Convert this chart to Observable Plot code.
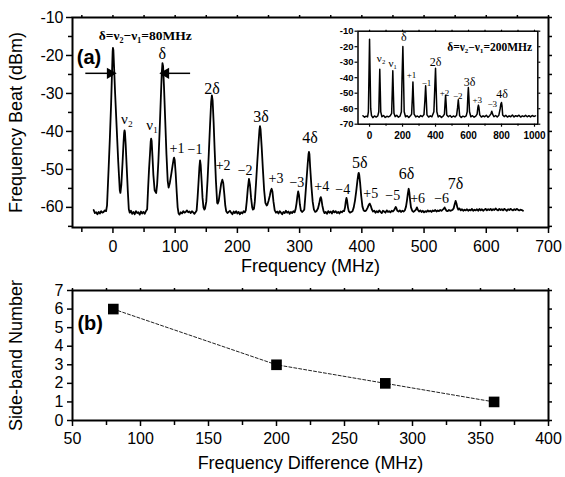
<!DOCTYPE html>
<html>
<head>
<meta charset="utf-8">
<script src="https://cdn.jsdelivr.net/npm/d3@7"></script>
<script src="https://cdn.jsdelivr.net/npm/@observablehq/plot@0.6"></script>
<style>
  html, body { margin: 0; padding: 0; background: white; }
  #wrap { position: relative; width: 565px; height: 477px; overflow: hidden; }
  #wrap > div { position: absolute; }
  svg { background: transparent !important; overflow: visible; }
</style>
</head>
<body>
<div id="wrap">
  <div id="pb" style="left:0;top:265px"></div>
  <div id="pa" style="left:0;top:0"></div>
  <div id="pinset" style="left:320px;top:20px"></div>
</div>
<script>
// ---------- Panel (a): beat spectrum, delta = 80 MHz  [frequency MHz, power dBm]
const spectrumA = [
[-31,-60.7],[-29,-61.5],[-27,-61.3],[-25,-61.8],[-23,-61.2],[-21,-61.6],[-19,-61.0],[-17,-61.4],[-15,-61.2],[-13,-60.8],[-11,-61.0],
[-9.5,-59.5],[-7,-50],[-5,-42],[-3,-33],[-1.5,-24.5],[-0.5,-19],[0,-18],[0.7,-18.6],[1.8,-23],[3.5,-30],[6,-39],[8.5,-48],[11,-55.5],[12,-56.2],
[13.5,-54],[15.5,-48],[17,-43],[18,-40.3],[18.6,-39.7],[19.3,-40.2],[20.5,-43.5],[22,-49],[24,-56],[25.5,-60.5],
[27,-61.4],[29,-60.9],[31,-61.7],[33,-61.2],[35,-61.8],[37,-61.0],[39,-61.5],[41,-61.3],[43,-61.9],[45,-61.1],[47,-61.6],[49,-61.2],[51,-61.7],[53,-61.0],
[55,-60.5],[56.5,-55],[58,-50],[59.5,-46],[60.7,-42.6],[61.4,-41.9],[62.2,-42.5],[63.5,-46.5],[65,-51.5],[67,-55.5],[69.5,-56.2],
[71,-54],[73,-48],[75,-40],[77,-31],[78.5,-24.5],[79.6,-22],[80.6,-22.8],[82,-28],[84,-37],[86,-46],[88,-53],[89.5,-54.8],
[91.5,-53.5],[94,-51],[96,-48.8],[97.5,-47.3],[98.3,-46.9],[99.3,-47.6],[100.8,-51],[102.5,-56],[104,-60],[105.5,-61.6],
[107,-61.9],[109,-61.3],[111,-61.6],[113,-61.0],[115,-61.4],[117,-61.2],[119,-60.8],[121,-61.3],[123,-61.1],[125,-61.5],[127,-61.0],[129,-61.3],[131,-61.7],[133,-61.2],
[134.5,-60.8],[136,-57.5],[137.5,-53.5],[139,-49.3],[140,-47.6],[141,-48.8],[142.5,-53],[144,-57.5],[145.5,-60],[147,-60.6],[148,-60.3],
[150,-58.5],[152,-53],[154,-46],[156,-38.5],[157.8,-32.3],[159,-30.5],[160.2,-31.8],[161.8,-37.5],[163.5,-45],[165.5,-53],[167.5,-58.8],[168.5,-59],
[170,-58.3],[172,-56],[174,-53.7],[175.8,-52.7],[177.3,-53.6],[179,-56.5],[180.5,-59.5],[182,-61],
[184,-61.5],[186,-61.2],[188,-60.9],[190,-61.4],[192,-61.8],[194,-61.1],[196,-61.5],[198,-61.0],[200,-61.6],[202,-61.2],[204,-61.8],[206,-61.3],[208,-61.6],[210,-61.0],[212,-61.3],
[213.5,-60.8],[215,-58.5],[216.8,-55],[218.6,-52.5],[220.2,-54],[222,-57.5],[223.8,-60],[225,-60.6],[226.6,-60.4],
[228,-58.5],[230,-53.5],[232,-48],[234,-43],[235.5,-39.5],[236.3,-38.6],[237.2,-39.4],[239,-44],[241,-50],[243,-55.5],[245,-58.8],[247,-59.5],[248,-59.4],
[250,-58.3],[252,-57],[253.7,-55.6],[255,-55.1],[256.3,-55.8],[258,-58.5],[260,-60.8],[262,-61.4],
[264,-61.1],[266,-61.6],[268,-61.0],[270,-61.4],[272,-61.8],[274,-61.2],[276,-61.5],[278,-60.9],[280,-61.4],[282,-61.1],[284,-61.7],[286,-61.2],[288,-61.5],[290,-61.0],[292,-61.3],
[293.5,-60.5],[295,-59],[296.5,-57],[297.7,-55.8],[299,-56.7],[300.5,-59.3],[302,-60.8],[304,-61.2],[306,-60.9],
[307.5,-60.6],[309,-57.5],[311,-53],[313,-48.5],[314.3,-46],[315,-45.4],[315.8,-46],[317,-49.5],[319,-54.5],[321,-58.5],[323,-60.6],[325,-61.2],
[327,-61],[329.5,-60.3],[331.5,-59],[333,-57.7],[334,-57.3],[335,-57.8],[336.5,-59.5],[338.5,-61],[340,-61.5],
[342,-61.2],[344,-61.7],[346,-61.0],[348,-61.4],[350,-61.1],[352,-61.6],[354,-60.9],[356,-61.3],[358,-61.0],[360,-61.5],[362,-61.2],[364,-61.6],[366,-61.1],[368,-61.3],[370,-60.9],
[371.5,-61],[373,-60],[374.3,-58.3],[375.3,-57.5],[376.3,-58.2],[377.7,-60],[379,-61],[381,-61.4],[383,-61.2],
[385,-61],[387,-60],[389,-58.2],[391,-55.7],[393,-52.8],[394.3,-51.3],[395,-50.9],[395.8,-51.4],[397.2,-53.5],[399,-57],[401,-59.8],[403,-60.8],[405,-61],
[407,-60.8],[409,-60.2],[411,-59.4],[412.7,-59.0],[414.3,-59.6],[416,-60.5],[418,-61.1],
[420,-60.9],[422,-61.4],[424,-61.0],[426,-61.3],[428,-60.8],[430,-61.2],[432,-61.5],[434,-60.9],[436,-61.1],[438,-61.4],[440,-60.8],[442,-61.2],[444,-61.0],[446,-61.3],[448,-60.9],[450,-61.1],
[452,-60.7],[453.5,-60.2],[454.5,-59.9],[455.7,-60.3],[457,-60.9],[459,-61.1],[461,-60.8],[463,-61.2],[465,-60.9],[467,-61.1],
[469,-60.8],[471,-59.8],[472.5,-58.2],[474,-56.3],[475.3,-55.1],[476.3,-56],[477.5,-58],[479,-60],[481,-60.9],[483,-61.2],[485,-60.9],
[487,-60.6],[488.5,-60.0],[490,-60.6],[492,-61.1],[494,-60.8],[496,-61.2],[498,-60.9],[500,-61.3],[502,-61.0],[504,-61.2],[506,-60.8],[508,-61.1],[510,-60.9],[512,-61.2],[514,-60.8],[516,-61.0],[518,-60.7],[520,-61.1],[522,-60.8],[524,-61.0],[526,-60.7],[528,-60.9],[530,-60.6],
[531.5,-60.4],[533,-60.0],[534.5,-60.5],[536,-60.9],[538,-61.0],[540,-60.7],[542,-60.9],[544,-60.8],[546,-60.6],
[547.5,-60.3],[549,-59.3],[550.7,-58.3],[552,-58.9],[553.5,-60],[555,-60.6],[557,-60.3],[559,-60.8],[561,-60.5],
[563,-60.9],[565,-60.6],[567,-60.8],[569,-60.5],[571,-60.9],[573,-60.6],[575,-60.8],[577,-60.4],[579,-60.9],[581,-60.6],[583,-60.8],[585,-60.5],[587,-60.9],[589,-60.4],[591,-60.8],[593,-60.5],[595,-60.9],[597,-60.6],[599,-60.4],[601,-60.8],[603,-60.5],[605,-60.7],[607,-60.4],[609,-60.8],[611,-60.5],[613,-60.7],[615,-60.3],[617,-60.6],[619,-60.8],[621,-60.4],[623,-60.7],[625,-60.5],[627,-60.8],[629,-60.4],[631,-60.6],[633,-60.9],[635,-60.5],[637,-60.7],[639,-60.4],[641,-60.6],[643,-60.8],[645,-60.5],[647,-60.7],[649,-60.4],[651,-60.6],[653,-60.8],[655,-60.6],[657,-60.7],[659,-60.9]
];

// peak labels of panel (a) [text, frequency, dBm, size]
const labelsA = [
["ν₂",22.5,-36.7,15],["ν₁",63.3,-38.4,15],["δ",79.3,-19.5,16],["2δ",159.3,-28.7,16],["3δ",238,-36.3,16],["4δ",316.6,-41.6,16],
["+1",103,-44.5,14],["−1",132,-44.7,14],["+2",177.1,-48.9,14],["−2",212.4,-50.3,14],["+3",262,-52.4,14],["−3",295.6,-53.4,14],
["+4",335.7,-54.5,14],["−4",369.4,-55.3,14],["5δ",396.7,-48.2,16],["+5",414.3,-56.3,14],["−5",449.6,-56.8,14],
["6δ",472,-51.3,16],["+6",489.7,-57.6,14],["−6",528.2,-57.6,14],["7δ",550.7,-53.9,16]
];
const titleA = ["δ=ν₂−ν₁=80MHz", 52, -14.7];
const panelTagA = ["(a)", -38.4, -20.5];
// arrows [from f, to f, dBm]
const arrowsA = [[-44.4,-4.5,-24.7],[124,85,-24.7]];

const xMajorA = [0,100,200,300,400,500,600,700];
const xMinorA = [-50,50,150,250,350,450,550,650];
const yMajorA = [-10,-20,-30,-40,-50,-60];
const yMinorA = [-15,-25,-35,-45,-55,-65];

// ---------- Inset: delta = 200 MHz
const spectrumInset = [
[-40,-64.5],[-30,-65.5],[-20,-64.8],[-12,-65.3],[-7,-62],[-3,-35],[0,-15.2],[3,-35],[7,-60],[12,-64.5],[20,-65.8],[30,-64.7],[40,-65.4],[50,-64.6],
[56,-62],[59,-48],[62,-34.5],[65,-48],[68,-62],[75,-65.2],[85,-64.4],[95,-65.6],[105,-64.9],[115,-65.3],[125,-64.6],
[134,-63],[138,-48],[141,-35.5],[144,-48],[148,-63],[155,-65.1],[165,-64.3],[175,-65.5],[185,-64.8],
[193,-62],[197,-40],[202,-19.9],[206,-40],[210,-62],[218,-65.2],[228,-64.5],[238,-65.7],[248,-64.6],
[255,-63.5],[260,-52],[263,-42.7],[266,-52],[270,-63.5],[280,-65.3],[290,-64.7],[300,-65.5],[310,-64.4],[320,-65.1],
[330,-63.8],[336,-54],[340,-45.2],[344,-54],[348,-64],[358,-65.4],[368,-64.6],[378,-65.2],
[390,-62],[395,-48],[400,-33.9],[404,-48],[408,-62],[416,-65.3],[426,-64.5],[436,-65.6],[446,-64.8],
[454,-63.5],[458,-56],[461,-51.3],[464,-56],[468,-64],[478,-65.2],[488,-64.4],[498,-65.5],[508,-64.7],[518,-65.3],
[528,-64.2],[534,-59],[538,-54.3],[542,-59],[546,-64.5],[556,-65.6],[566,-64.8],[576,-65.3],[586,-64.6],
[592,-62],[596,-52],[599,-46.3],[602,-52],[606,-62],[614,-65.2],[624,-64.5],[634,-65.5],[644,-64.8],
[652,-63.5],[657,-59],[660,-57.7],[663,-59],[668,-64],[678,-65.4],[688,-64.6],[698,-65.2],[708,-64.3],[718,-65.5],[728,-64.5],
[736,-63.3],[741,-61.6],[746,-63.5],[754,-65.2],[764,-64.4],[774,-65.3],[784,-64.2],
[792,-60],[796,-57],[800,-56],[803,-58],[807,-64],[816,-65.1],[826,-64.3],[836,-65.4],[846,-64.6],[856,-65.2],[866,-64.1],
[876,-65.3],[886,-64.5],[896,-65.0],[906,-64.2],[916,-65.4],[926,-64.6],[936,-65.1],[946,-64.3],[956,-65.2],[966,-64.5],[976,-65.3],[986,-64.4],[996,-65.0],[1006,-64.6]
];
const labelsInset = [
["ν₂",71,-27.6,11],["ν₁",141,-30.6,11],["δ",208,-14.1,12],["+1",254.5,-38.4,9],["−1",345,-43.5,9],["2δ",400,-30.2,12],
["+2",454.5,-50,9],["−2",535,-52.1,9],["3δ",606,-43.1,12],["+3",653,-54.3,9],["−3",743.6,-57.1,9],["4δ",804,-50.6,12]
];
const titleInset = ["δ=ν₂−ν₁=200MHz", 728, -20.5];
const xTicksInset = [0,200,400,600,800,1000];
const xMinorInset = [100,300,500,700,900];
const yTicksInset = [-10,-20,-30,-40,-50,-60,-70];

// ---------- Panel (b): side-band number vs frequency difference
const freqDiff = [80, 200, 280, 360];
const sideBands = [6, 3, 2, 1];
const xMajorB = [50,100,150,200,250,300,350,400];
const xMinorB = [75,125,175,225,275,325,375];
const yMajorB = [0,1,2,3,4,5,6,7];

const sans = "'Liberation Sans', Arial, sans-serif";
const serif = "'Liberation Serif', 'Times New Roman', serif";
const blank = () => "";

// ---------- build panel (a)
const plotA = Plot.plot({
  width: 565, height: 285,
  marginLeft: 72, marginRight: 17, marginTop: 17, marginBottom: 58,
  style: {fontFamily: sans, fontSize: "16px", color: "black", background: "transparent"},
  x: {domain: [-65, 700]},
  y: {domain: [-65.3, -10]},
  marks: [
    Plot.line(spectrumA, {x: d => d[0], y: d => d[1], stroke: "black", strokeWidth: 1.8, strokeLinejoin: "round"}),
    Plot.frame({stroke: "black", strokeWidth: 2}),
    Plot.axisX({ticks: xMajorA, tickSize: 6, tickPadding: 7, tickFormat: d => String(d), label: null, fontSize: 16, strokeWidth: 1.5}),
    Plot.axisX({ticks: xMinorA, tickSize: 5, tickFormat: blank, label: null, strokeWidth: 1.5}),
    Plot.axisX({anchor: "top", ticks: xMajorA.concat(xMinorA), tickSize: 3, tickFormat: blank, label: null, strokeWidth: 1.5}),
    Plot.axisY({ticks: yMajorA, tickSize: 6, tickPadding: 3, tickFormat: d => String(d), label: null, fontSize: 16, strokeWidth: 1.5}),
    Plot.axisY({ticks: yMinorA, tickSize: 4, tickFormat: blank, label: null, strokeWidth: 1.5}),
    Plot.axisY({anchor: "right", ticks: yMajorA.concat(yMinorA), tickSize: 3, tickFormat: blank, label: null, strokeWidth: 1.5}),
    Plot.text(["Frequency (MHz)"], {frameAnchor: "bottom", dy: 44, fontSize: 18, fontFamily: sans}),
    Plot.text(["Frequency Beat (dBm)"], {frameAnchor: "left", dx: -56, rotate: -90, textAnchor: "middle", lineAnchor: "middle", fontSize: 18, fontFamily: sans}),
    Plot.text(labelsA, {x: d => d[1], y: d => d[2], text: d => d[0], fontSize: d => d[3], fontFamily: serif}),
    Plot.text([titleA], {x: d => d[1], y: d => d[2], text: d => d[0], fontSize: 13.5, fontWeight: "bold", fontFamily: serif}),
    Plot.text([panelTagA], {x: d => d[1], y: d => d[2], text: d => d[0], fontSize: 20, fontWeight: "bold", fontFamily: sans}),
    Plot.link(arrowsA, {x1: d => d[0], x2: d => d[1], y1: d => d[2], y2: d => d[2], stroke: "black", strokeWidth: 1.5}),
    Plot.dot(arrowsA, {x: d => d[1], y: d => d[2], symbol: "triangle", r: 4.2, fill: "black", stroke: "none",
      rotate: d => d[1] > d[0] ? 90 : -90})
  ]
});
document.getElementById("pa").appendChild(plotA);

// ---------- inset
const plotInset = Plot.plot({
  width: 225, height: 130,
  marginLeft: 37.5, marginRight: 7.7, marginTop: 10.7, marginBottom: 26.3,
  style: {fontFamily: sans, fontSize: "10px", color: "black", background: "transparent"},
  x: {domain: [-70, 1020]},
  y: {domain: [-70, -10]},
  marks: [
    Plot.line(spectrumInset, {x: d => d[0], y: d => d[1], stroke: "black", strokeWidth: 1.5, strokeLinejoin: "round"}),
    Plot.frame({stroke: "black", strokeWidth: 1.5}),
    Plot.axisX({ticks: xTicksInset, tickSize: 3, tickPadding: 5, tickFormat: d => String(d), label: null, fontSize: 10, fontWeight: "bold", strokeWidth: 1.2}),
    Plot.axisX({ticks: xMinorInset, tickSize: 2, tickFormat: blank, label: null, strokeWidth: 1.2}),
    Plot.axisX({anchor: "top", ticks: xTicksInset.concat(xMinorInset), tickSize: 2, tickFormat: blank, label: null, strokeWidth: 1.2}),
    Plot.axisY({ticks: yTicksInset, tickSize: 3, tickPadding: 1.5, tickFormat: d => String(d), label: null, fontSize: 9.5, fontWeight: "bold", strokeWidth: 1.2}),
    Plot.axisY({anchor: "right", ticks: yTicksInset, tickSize: 2, tickFormat: blank, label: null, strokeWidth: 1.2}),
    Plot.text(labelsInset, {x: d => d[1], y: d => d[2], text: d => d[0], fontSize: d => d[3], fontFamily: serif}),
    Plot.text([titleInset], {x: d => d[1], y: d => d[2], text: d => d[0], fontSize: 11.5, fontWeight: "bold", fontFamily: serif})
  ]
});
document.getElementById("pinset").appendChild(plotInset);

// ---------- panel (b)
const dataB = freqDiff.map((f, i) => ({f, n: sideBands[i]}));
const plotB = Plot.plot({
  width: 565, height: 212,
  marginLeft: 72, marginRight: 17, marginTop: 25, marginBottom: 57,
  style: {fontFamily: sans, fontSize: "16px", color: "black", background: "transparent"},
  x: {domain: [50, 400]},
  y: {domain: [0, 7]},
  marks: [
    Plot.line(dataB, {x: "f", y: "n", stroke: "#222", strokeWidth: 1, strokeDasharray: "3,2"}),
    Plot.dot(dataB, {x: "f", y: "n", symbol: "square", r: 6, fill: "black", stroke: "none"}),
    Plot.frame({stroke: "black", strokeWidth: 2}),
    Plot.axisX({ticks: xMajorB, tickSize: 6, tickPadding: 6, tickFormat: d => String(d), label: null, fontSize: 16, strokeWidth: 1.5}),
    Plot.axisX({ticks: xMinorB, tickSize: 5, tickFormat: blank, label: null, strokeWidth: 1.5}),
    Plot.axisX({anchor: "top", ticks: xMajorB.concat(xMinorB), tickSize: 3, tickFormat: blank, label: null, strokeWidth: 1.5}),
    Plot.axisY({ticks: yMajorB, tickSize: 5, tickPadding: 4, tickFormat: d => String(d), label: null, fontSize: 16, strokeWidth: 1.5}),
    Plot.axisY({anchor: "right", ticks: yMajorB, tickSize: 3, tickFormat: blank, label: null, strokeWidth: 1.5}),
    Plot.text(["Frequency Difference (MHz)"], {frameAnchor: "bottom", dy: 48, fontSize: 18, fontFamily: sans}),
    Plot.text(["Side-band Number"], {frameAnchor: "left", dx: -56, rotate: -90, textAnchor: "middle", lineAnchor: "middle", fontSize: 18, fontFamily: sans}),
    Plot.text([["(b)", 63, 5.2]], {x: d => d[1], y: d => d[2], text: d => d[0], fontSize: 20, fontWeight: "bold", fontFamily: sans})
  ]
});
document.getElementById("pb").appendChild(plotB);
</script>
</body>
</html>
